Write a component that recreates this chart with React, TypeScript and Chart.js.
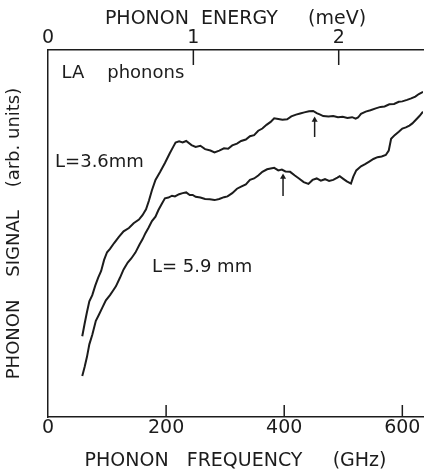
import React, { useEffect, useRef } from "react";
import { Chart, registerables } from "chart.js";

Chart.register(...registerables);

// ---- data ----
const freqTicks = [0, 200, 400, 600]; // GHz, bottom axis
const energyTicks = [0, 1, 2]; // meV, top axis

// L = 3.6 mm (upper trace)
const freqUpper = [
  58, 62, 66, 70, 75, 80, 85, 90, 95, 100, 105, 112, 120, 128, 137, 145, 154, 160, 166, 171,
  176, 182, 190, 198, 206, 212, 216, 222, 228, 234, 243, 250, 258, 266, 275, 282, 290, 298, 305, 312,
  320, 327, 335, 342, 349, 356, 363, 370, 377, 383, 390, 397, 405, 412, 420, 427, 434, 442, 449, 455,
  461, 466, 475, 483, 491, 499, 507, 515, 521, 525, 530, 538, 546, 555, 563, 570, 578, 586, 594, 600,
  608, 615, 622, 628, 635,
];
const signalUpper = [
  22.0, 25.4, 28.6, 31.5, 33.2, 35.8, 38.0, 39.8, 42.8, 44.9, 45.8, 47.4, 49.1, 50.6, 51.5, 52.8, 53.8, 55.0, 56.6, 59.0,
  61.8, 64.6, 66.8, 69.2, 71.8, 73.6, 74.8, 75.1, 74.8, 75.2, 74.1, 73.6, 73.9, 73.0, 72.6, 72.1, 72.6, 73.2, 73.1, 74.0,
  74.5, 75.2, 75.6, 76.5, 76.8, 78.0, 78.6, 79.6, 80.4, 81.4, 81.2, 81.0, 81.1, 81.9, 82.4, 82.7, 83.0, 83.3, 83.4, 82.8,
  82.4, 82.0, 81.9, 82.0, 81.7, 81.8, 81.5, 81.7, 81.3, 81.6, 82.6, 83.2, 83.6, 84.1, 84.5, 84.6, 85.2, 85.3, 85.9, 86.0,
  86.4, 86.8, 87.3, 88.0, 88.6,
];

// L = 5.9 mm (lower trace)
const freqLower = [
  58, 62, 66, 70, 75, 81, 86, 92, 98, 105, 110, 115, 122, 128, 135, 141, 148, 155, 160, 165,
  170, 176, 182, 187, 193, 198, 204, 210, 215, 222, 228, 234, 240, 245, 250, 258, 266, 274, 282, 290,
  298, 304, 312, 320, 327, 335, 342, 349, 356, 363, 371, 377, 383, 390, 396, 402, 410, 418, 425, 433,
  441, 448, 455, 462, 469, 476, 483, 490, 494, 500, 506, 513, 517, 522, 530, 537, 544, 551, 558, 565,
  572, 577, 581, 587, 594, 600, 606, 612, 617, 623, 629, 635,
];
const signalLower = [
  11.2, 13.6, 16.4, 19.8, 22.4, 26.2, 27.8, 29.8, 31.8, 33.2, 34.4, 35.6, 38.0, 40.2, 42.1, 43.2, 44.8, 47.0, 48.4, 50.1,
  51.5, 53.4, 54.6, 56.4, 58.2, 59.6, 59.8, 60.3, 60.1, 60.7, 61.0, 61.2, 60.5, 60.5, 60.0, 59.8, 59.4, 59.3, 59.1, 59.4,
  59.9, 60.1, 61.0, 62.2, 62.8, 63.4, 64.6, 65.0, 65.8, 66.8, 67.5, 67.7, 67.9, 67.2, 67.4, 66.9, 66.8, 65.8, 65.0, 64.0,
  63.5, 64.6, 65.0, 64.4, 64.8, 64.3, 64.6, 65.2, 65.6, 64.9, 64.2, 63.6, 65.5, 67.2, 68.3, 68.9, 69.6, 70.3, 70.8, 71.0,
  71.4, 72.6, 75.8, 76.8, 77.7, 78.6, 78.9, 79.4, 80.0, 81.0, 82.0, 83.2,
];

// arrows marking features: [x, tail y, head y]
const arrowUpper = [451.5, 76.3, 80.9];
const arrowLower = [398, 60.2, 65.4];

// text labels on the plot: text, x (GHz), y (signal) of baseline-left
const plotLabels = [
  { text: "LA    phonons", x: 23, y: 92.3 },
  { text: "L=3.6mm", x: 12, y: 68.0 },
  { text: "L= 5.9 mm", x: 176, y: 39.5 },
];

const INK = "#1c1c1c";
const FONT = "DejaVu Sans";

const zip = (xs: number[], ys: number[]) => xs.map((x, i) => ({ x, y: ys[i] }));

const decorPlugin = {
  id: "decor",
  afterDraw(chart: any) {
    const ctx = chart.ctx;
    const xs = chart.scales.x;
    const xt = chart.scales.x2;
    const ys = chart.scales.y;
    ctx.save();
    ctx.strokeStyle = INK;
    ctx.lineWidth = 1.5;
    // inward ticks on bottom axis
    freqTicks.forEach((v) => {
      if (v === 0) return;
      const px = xs.getPixelForValue(v);
      ctx.beginPath();
      ctx.moveTo(px, xs.top);
      ctx.lineTo(px, xs.top - 12);
      ctx.stroke();
    });
    // inward ticks on top axis
    energyTicks.forEach((v) => {
      if (v === 0) return;
      const px = xt.getPixelForValue(v);
      ctx.beginPath();
      ctx.moveTo(px, xt.bottom);
      ctx.lineTo(px, xt.bottom + 15);
      ctx.stroke();
    });
    // labels
    ctx.fillStyle = INK;
    ctx.font = `18px "${FONT}"`;
    ctx.textBaseline = "alphabetic";
    ctx.textAlign = "left";
    plotLabels.forEach((l) => {
      ctx.fillText(l.text, xs.getPixelForValue(l.x), ys.getPixelForValue(l.y));
    });
    ctx.restore();
  },
};

export default function App() {
  const ref = useRef<HTMLCanvasElement | null>(null);
  useEffect(() => {
    document.body.style.margin = "0";
    if (!ref.current) return;
    Chart.defaults.font.family = FONT;
    Chart.defaults.color = INK;
    const lineDs = (data: any[]) => ({
      data,
      borderColor: INK,
      borderWidth: 2,
      pointRadius: 0,
      tension: 0,
      fill: false,
      xAxisID: "x",
      yAxisID: "y",
    });
    const arrowDs = (a: number[]) => ({
      data: [
        { x: a[0], y: a[1] },
        { x: a[0], y: a[2] },
      ],
      borderColor: INK,
      backgroundColor: INK,
      borderWidth: 1.5,
      pointRadius: [0, 3.5],
      pointStyle: "triangle",
      pointBorderWidth: 0,
      tension: 0,
      fill: false,
      xAxisID: "x",
      yAxisID: "y",
    });
    const chart = new Chart(ref.current, {
      type: "line",
      data: {
        datasets: [
          lineDs(zip(freqUpper, signalUpper)),
          lineDs(zip(freqLower, signalLower)),
          arrowDs(arrowUpper),
          arrowDs(arrowLower),
        ] as any,
      },
      options: {
        animation: false,
        responsive: false,
        layout: { padding: 0 },
        plugins: { legend: { display: false }, tooltip: { enabled: false } },
        scales: {
          x: {
            type: "linear",
            position: "bottom",
            min: 0,
            max: 635,
            afterBuildTicks: (s: any) => {
              s.ticks = freqTicks.map((v) => ({ value: v }));
            },
            ticks: { font: { size: 19 }, color: INK, padding: 0, maxRotation: 0, autoSkip: false },
            grid: { display: false, drawTicks: false },
            border: { display: true, color: INK, width: 1.5 },
            title: {
              display: true,
              text: "PHONON   FREQUENCY     (GHz)",
              font: { size: 19 },
              color: INK,
              padding: { top: 0, bottom: 3 },
            },
            afterFit: (s: any) => {
              s.height = 58;
            },
          },
          x2: {
            type: "linear",
            position: "top",
            min: 0,
            max: 2.58,
            afterBuildTicks: (s: any) => {
              s.ticks = energyTicks.map((v) => ({ value: v }));
            },
            ticks: { font: { size: 19 }, color: INK, padding: 1, maxRotation: 0, autoSkip: false },
            grid: { display: false, drawTicks: false },
            border: { display: true, color: INK, width: 1.5 },
            title: {
              display: true,
              text: "PHONON  ENERGY     (meV)",
              font: { size: 19 },
              color: INK,
              padding: { top: 8, bottom: 0 },
            },
            afterFit: (s: any) => {
              s.height = 50;
            },
          },
          y: {
            type: "linear",
            position: "left",
            min: 0,
            max: 100,
            ticks: { display: false },
            grid: { display: false, drawTicks: false },
            border: { display: true, color: INK, width: 1.5 },
            title: {
              display: true,
              text: "PHONON    SIGNAL    (arb. units)",
              font: { size: 18 },
              color: INK,
              padding: { top: 4, bottom: 0 },
            },
            afterFit: (s: any) => {
              s.width = 48;
            },
          },
        },
      } as any,
      plugins: [decorPlugin],
    });
    return () => chart.destroy();
  }, []);
  return (
    <div style={{ width: 427, height: 475 }}>
      <canvas ref={ref} width={427} height={475} style={{ display: "block" }} />
    </div>
  );
}
